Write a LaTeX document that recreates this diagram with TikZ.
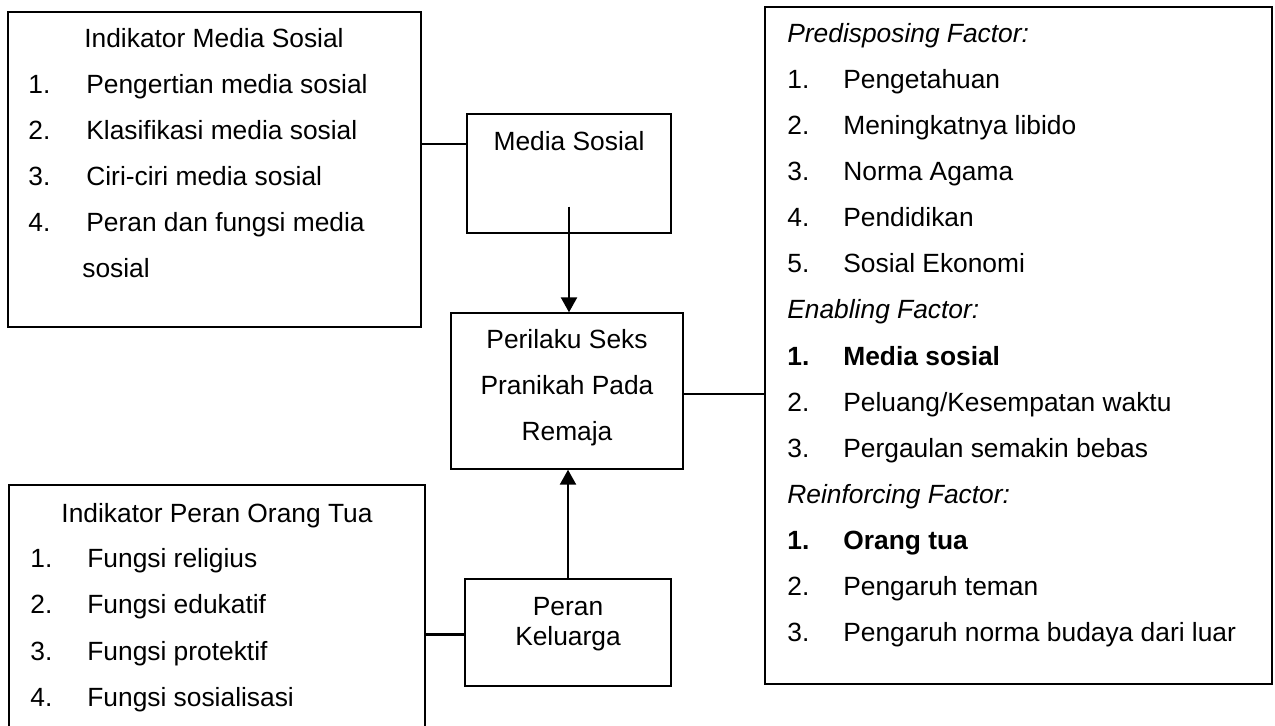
\documentclass[tikz,border=0pt]{standalone}
\usepackage{fontspec}
\setmainfont{Liberation Sans}
\usepackage{tikz}
\usetikzlibrary{arrows.meta, positioning, fit}

\begin{document}
\begin{tikzpicture}[
  x=0.02cm, y=-0.02cm,
  font=\fontsize{15}{18}\selectfont,
  box/.style={
    draw,
    line width=0.8pt,
    inner sep=0pt,
    fit={#1}
  },
  txt/.style={anchor=base west, inner sep=0pt},
  mid/.style={anchor=base, inner sep=0pt},
  link/.style={line width=1.4pt},
  arrow/.style={-{Triangle[width=0.32cm, length=0.3cm]}, line width=1.4pt}
]
\useasboundingbox (0,0) rectangle (1275,725);

% Kotak
\node[box={(8,12) (421,327)}] (indms) {};
\node[box={(467,114) (671,233)}] (ms) {};
\node[box={(451,313) (683,469)}] (perilaku) {};
\node[box={(465,579) (671,686)}] (peran) {};
\node[box={(9,485) (425,740)}] (indot) {};
\node[box={(765,7) (1272,684)}] (faktor) {};

% Indikator media sosial
\node[mid] (indms-t) at (214,47) {Indikator Media Sosial};
\foreach \t [count=\i] in {Pengertian media sosial, Klasifikasi media sosial,
  Ciri-ciri media sosial, Peran dan fungsi media} {
  \node[txt] (indms-n\i) at (28,{93+46*(\i-1)}) {\i.};
  \node[txt] (indms-\i) at (86,{93+46*(\i-1)}) {\t};
}
\node[txt] (indms-5) at (82,277) {sosial};

% Indikator peran orang tua
\node[mid] (indot-t) at (217,522) {Indikator Peran Orang Tua};
\foreach \t [count=\i] in {Fungsi religius, Fungsi edukatif,
  Fungsi protektif, Fungsi sosialisasi} {
  \node[txt] (indot-n\i) at (30,{567+46.5*(\i-1)}) {\i.};
  \node[txt] (indot-\i) at (87,{567+46.5*(\i-1)}) {\t};
}

% Kotak tengah
\node[mid] (ms-t) at (569,150) {Media Sosial};
\node[mid] (perilaku-1) at (567,348) {Perilaku Seks};
\node[mid] (perilaku-2) at (567,394) {Pranikah Pada};
\node[mid] (perilaku-3) at (567,440) {Remaja};
\node[mid] (peran-1) at (568,615) {Peran};
\node[mid] (peran-2) at (568,645) {Keluarga};

% Faktor
\node[txt] (pf) at (787,42) {\itshape Predisposing Factor:};
\foreach \t [count=\i] in {Pengetahuan, Meningkatnya libido, Norma Agama,
  Pendidikan, Sosial Ekonomi} {
  \node[txt] (pf-n\i) at (787,{42+46.15*\i}) {\i.};
  \node[txt] (pf-\i) at (843,{42+46.15*\i}) {\t};
}
\node[txt] (ef) at (787,{42+46.15*6}) {\itshape Enabling Factor:};
\node[txt] (ef-n1) at (787,{42+46.15*7}) {\bfseries 1.};
\node[txt] (ef-1) at (843,{42+46.15*7}) {\bfseries Media sosial};
\node[txt] (ef-n2) at (787,{42+46.15*8}) {2.};
\node[txt] (ef-2) at (843,{42+46.15*8}) {Peluang/Kesempatan waktu};
\node[txt] (ef-n3) at (787,{42+46.15*9}) {3.};
\node[txt] (ef-3) at (843,{42+46.15*9}) {Pergaulan semakin bebas};
\node[txt] (rf) at (787,{42+46.15*10}) {\itshape Reinforcing Factor:};
\node[txt] (rf-n1) at (787,{42+46.15*11}) {\bfseries 1.};
\node[txt] (rf-1) at (843,{42+46.15*11}) {\bfseries Orang tua};
\node[txt] (rf-n2) at (787,{42+46.15*12}) {2.};
\node[txt] (rf-2) at (843,{42+46.15*12}) {Pengaruh teman};
\node[txt] (rf-n3) at (787,{42+46.15*13}) {3.};
\node[txt] (rf-3) at (843,{42+46.15*13}) {Pengaruh norma budaya dari luar};

% Garis
\draw[link] ([yshift=0.59cm]ms.west) -- ([yshift=0.59cm]ms.west -| indms.east);
\draw[link] ([yshift=-0.06cm]perilaku.east) -- ([yshift=-0.06cm]perilaku.east -| faktor.west);
\draw[link] ([yshift=-0.04cm]peran.west) -- ([yshift=-0.04cm]peran.west -| indot.east);
\draw[arrow] ([yshift=0.54cm]ms.south) -- (ms.south |- perilaku.north);
\draw[arrow] (peran.north) -- (peran.north |- perilaku.south);

\end{tikzpicture}
\end{document}
